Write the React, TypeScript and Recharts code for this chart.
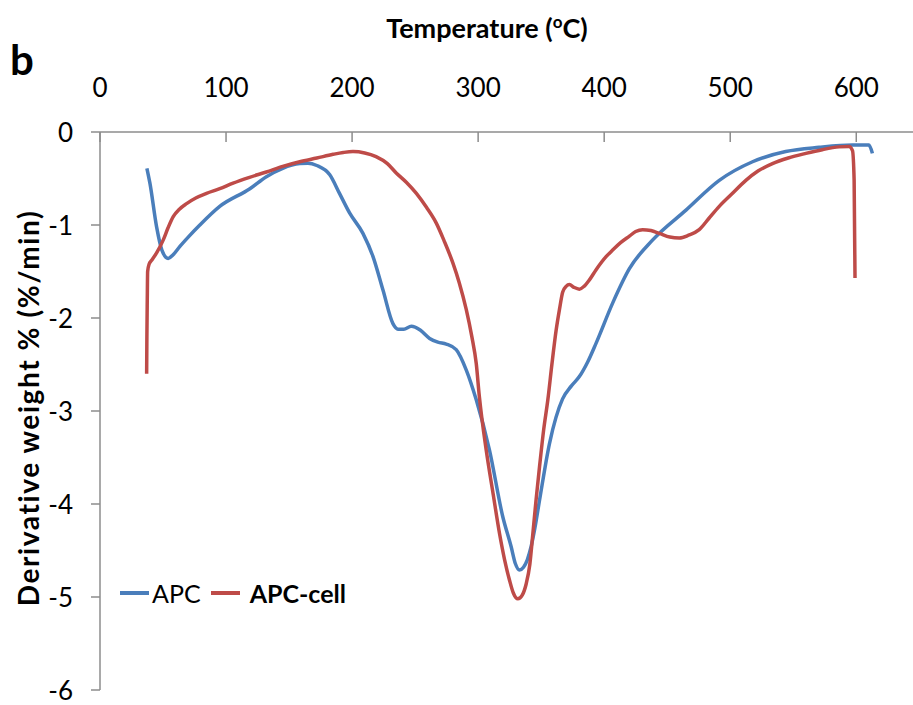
import React from 'react';
import { LineChart, Line, XAxis, YAxis, Legend } from 'recharts';

const apcTemp = [37.2, 39.6, 44.9, 49.1, 54.1, 58, 63.4, 70, 79.2, 95, 118.9, 132, 145, 158.5, 165, 172, 182.3, 190, 198, 208.6, 216.6, 224.5, 232.4, 236.4, 241, 247, 254, 261.5, 268, 274.7, 282.6, 290.6, 298.5, 309, 319.6, 326.2, 329.5, 332.8, 336, 339, 342, 345, 348.7, 356.6, 367, 374, 380.3, 387, 393.6, 406.7, 420, 438.5, 464.9, 491.3, 517.7, 544, 570.5, 597, 610, 612.8];
const apcDeriv = [-0.39, -0.55, -1.02, -1.27, -1.36, -1.32, -1.23, -1.13, -1.0, -0.8, -0.61, -0.48, -0.39, -0.34, -0.335, -0.36, -0.46, -0.66, -0.87, -1.09, -1.34, -1.7, -2.06, -2.12, -2.12, -2.09, -2.13, -2.22, -2.26, -2.28, -2.34, -2.56, -2.88, -3.42, -4.14, -4.46, -4.64, -4.71, -4.68, -4.6, -4.46, -4.26, -3.96, -3.35, -2.87, -2.73, -2.63, -2.47, -2.27, -1.84, -1.47, -1.16, -0.84, -0.52, -0.32, -0.21, -0.165, -0.14, -0.14, -0.23];

const cellTemp = [37.0, 37.2, 37.5, 37.8, 39, 41, 44.9, 50.2, 54, 58.1, 63, 68.7, 76, 84.5, 95, 105.6, 118, 132, 145, 158.5, 172, 184.9, 193, 200.7, 210, 219, 228, 235, 243, 251, 259, 266.8, 273, 280, 285, 290.6, 295, 298.5, 301, 306.4, 312, 317, 321, 324.9, 328, 331.5, 335, 338.1, 341, 343.4, 346, 348.7, 352, 355.3, 358.5, 361.9, 364.5, 367.1, 369.8, 372.4, 376, 380.3, 384, 388.3, 393.6, 401.5, 406.7, 413, 420, 425, 430.5, 437, 443.8, 452, 459.6, 467, 475.4, 483, 491.3, 501, 512.4, 522, 533.5, 546, 560, 573, 586.4, 594.3, 597, 598.3, 599];
const cellDeriv = [-2.6, -2.2, -1.81, -1.5, -1.42, -1.38, -1.3, -1.16, -1.03, -0.91, -0.83, -0.77, -0.71, -0.66, -0.61, -0.55, -0.49, -0.43, -0.37, -0.32, -0.28, -0.24, -0.22, -0.21, -0.225, -0.265, -0.34, -0.44, -0.54, -0.66, -0.81, -0.98, -1.17, -1.41, -1.62, -1.91, -2.2, -2.49, -2.85, -3.42, -3.9, -4.32, -4.6, -4.82, -4.96, -5.02, -4.98, -4.86, -4.65, -4.32, -3.95, -3.6, -3.2, -2.88, -2.5, -2.13, -1.91, -1.72, -1.66, -1.64, -1.67, -1.69, -1.66, -1.59, -1.48, -1.34, -1.27, -1.19, -1.12, -1.07, -1.05, -1.06, -1.09, -1.13, -1.14, -1.11, -1.05, -0.93, -0.8, -0.67, -0.52, -0.42, -0.34, -0.28, -0.23, -0.19, -0.16, -0.155, -0.2, -0.52, -1.57];

const xTicks = [0, 100, 200, 300, 400, 500, 600];
const yTicks = [-6, -5, -4, -3, -2, -1, 0];

const apcData = apcTemp.map((t, i) => ({ t, d: apcDeriv[i] }));
const cellData = cellTemp.map((t, i) => ({ t, d: cellDeriv[i] }));

const FONT = 'Lato, "Open Sans", sans-serif';
const AXIS = '#8c8c8c';
const BLUE = '#4a7ebb';
const RED = '#be4b48';

const XTick = (props: any) => {
  const { x, y, payload } = props;
  return (
    <g>
      <line x1={x} x2={x} y1={y + 35} y2={y + 45} stroke={AXIS} strokeWidth={1.5} />
      <text x={x} y={y} textAnchor="middle" fontSize={26} fontFamily={FONT} fill="#000">
        {payload.value}
      </text>
    </g>
  );
};

const YTick = (props: any) => {
  const { x, y, payload } = props;
  return (
    <text x={x} y={y + 10} textAnchor="end" fontSize={26} fontFamily={FONT} fill="#000">
      {payload.value}
    </text>
  );
};

const XTitle = () => {
  return (
    <text x={487} y={38} textAnchor="middle" fontSize={27} fontWeight="bold" fontFamily={FONT} fill="#000">
      Temperature (
      <tspan fontSize={17} dy={-10}>o</tspan>
      <tspan dy={10}>C)</tspan>
    </text>
  );
};

const YTitle = (props: any) => {
  const vb = props.viewBox || { x: 0, y: 132, width: 100, height: 558 };
  const cx = vb.x + 39;
  const cy = vb.y + vb.height / 2 - 3;
  return (
    <g>
      <text
        x={cx}
        y={cy}
        transform={`rotate(-90, ${cx}, ${cy})`}
        textAnchor="middle"
        fontSize={28}
        fontWeight="bold"
        letterSpacing={1.6}
        fontFamily={FONT}
        fill="#000"
      >
        Derivative weight % (%/min)
      </text>
      <text x={10} y={75} fontSize={42} fontWeight="bold" fontFamily={FONT} fill="#000">b</text>
    </g>
  );
};

const LegendContent = (props: any) => {
  const payload = props.payload || [];
  return (
    <div style={{ display: 'flex', alignItems: 'center', fontFamily: FONT, fontSize: 25, lineHeight: '30px', color: '#000', whiteSpace: 'nowrap' }}>
      {payload.map((p: any, i: number) => (
        <div key={i} style={{ display: 'flex', alignItems: 'center', marginLeft: i === 0 ? 0 : 10 }}>
          <span style={{ display: 'inline-block', width: 29, height: 4, background: p.color }} />
          <span style={{ marginLeft: i === 0 ? 3 : 10, fontWeight: i === 1 ? 'bold' : 'normal' }}>{p.value}</span>
        </div>
      ))}
    </div>
  );
};

export default function App() {
  return (
    <div style={{ position: 'absolute', left: 0, top: 0, width: 913, height: 705, background: '#fff' }}>
      <LineChart width={913} height={705} margin={{ top: 0, right: 0, left: 0, bottom: 15 }}>
        <XAxis
          dataKey="t"
          type="number"
          orientation="top"
          domain={[0, 645]}
          ticks={xTicks}
          height={132}
          tickSize={0}
          tickMargin={35}
          tick={<XTick />}
          axisLine={{ stroke: AXIS, strokeWidth: 1.5 }}
          tickLine={false}
          allowDataOverflow
          label={<XTitle />}
        />
        <YAxis
          type="number"
          domain={[-6, 0]}
          ticks={yTicks}
          width={100}
          tickSize={9}
          tickMargin={18}
          tick={<YTick />}
          axisLine={{ stroke: AXIS, strokeWidth: 1.5 }}
          tickLine={{ stroke: AXIS, strokeWidth: 1.5 }}
          label={<YTitle />}
        />
        <Legend
          layout="vertical"
          verticalAlign="middle"
          align="center"
          content={<LegendContent />}
          wrapperStyle={{ left: 120, top: 578, width: 300, height: 30 }}
        />
        <Line data={apcData} dataKey="d" name="APC" type="monotone" stroke={BLUE} strokeWidth={3.5} dot={false} isAnimationActive={false} />
        <Line data={cellData} dataKey="d" name="APC-cell" type="monotone" stroke={RED} strokeWidth={3.5} dot={false} isAnimationActive={false} />
      </LineChart>
    </div>
  );
}
